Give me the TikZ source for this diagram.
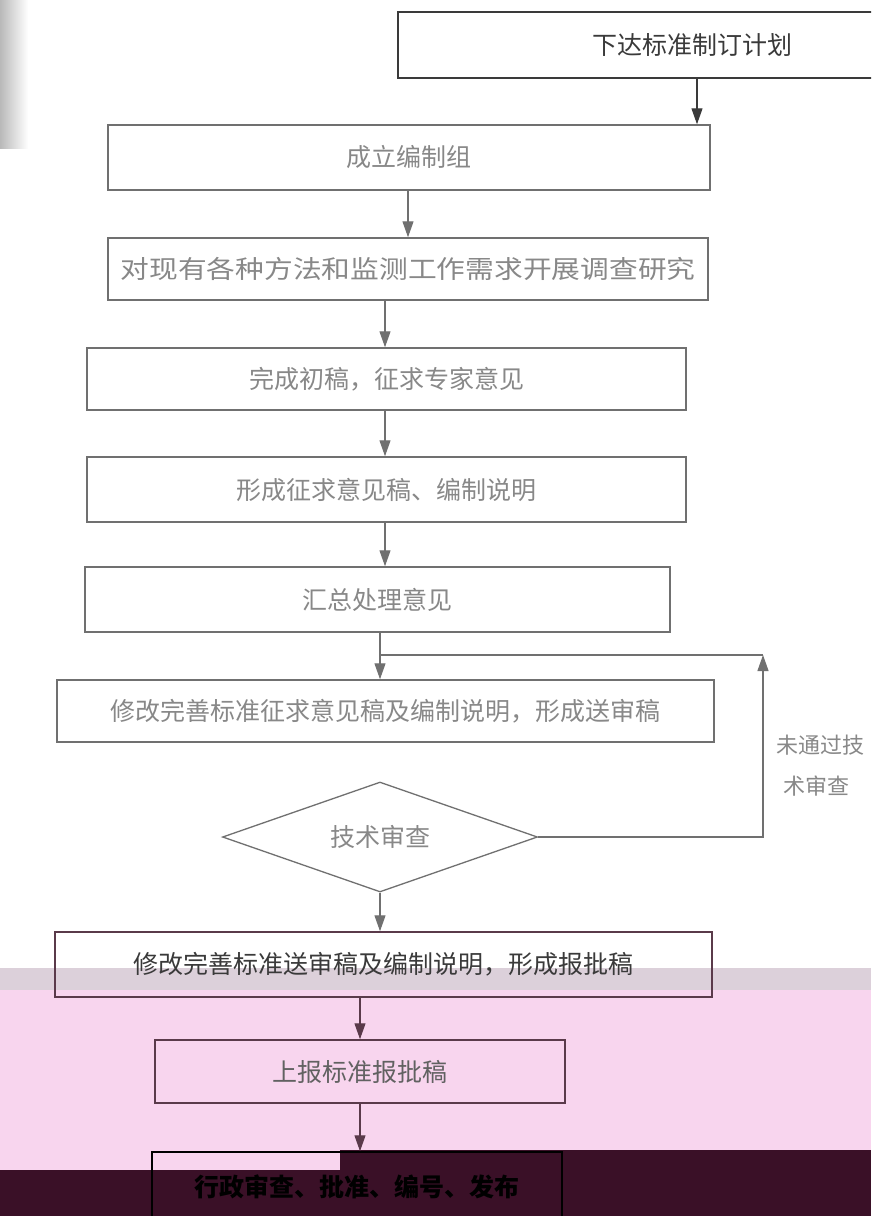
\documentclass[tikz,border=0pt]{standalone}
\usepackage{fontspec}
\setmainfont{Noto Sans CJK SC}
\usepackage{graphicx}
\usetikzlibrary{arrows.meta,shapes.geometric}
\definecolor{linec}{HTML}{707070}
\definecolor{txtc}{HTML}{888888}
\definecolor{darktxt}{HTML}{3A3A3A}
\definecolor{pinkbg}{HTML}{F8D5EE}
\definecolor{bandbg}{HTML}{DCD0DA}
\definecolor{darkbg}{HTML}{3A1027}
\definecolor{pinkline}{HTML}{5A3A4A}
\begin{document}
\begin{tikzpicture}[x=1pt,y=-1pt,
  box/.style={draw=linec,line width=1.5pt,rectangle,inner sep=0pt,text=txtc,
    font=\fontsize{25}{25}\selectfont},
  decision/.style={draw=linec,line width=1.3pt,diamond,aspect=2.86,inner sep=0pt,text=txtc,
    font=\fontsize{25}{25}\selectfont},
  arr/.style={draw=linec,line width=1.2pt,-{Triangle[length=16pt,width=11pt]}},
  link/.style={draw=linec,line width=1.2pt},
  lbl/.style={text=txtc,font=\fontsize{22}{41}\selectfont,align=left,inner sep=0pt}]
\clip (0,0) rectangle (871,1216);
% background (scan artefacts)
\fill[white] (0,0) rectangle (871,1216);
\shade[left color=gray!55,right color=white] (0,0) rectangle (28,148);
\fill[bandbg] (0,968) rectangle (871,990);
\fill[pinkbg] (0,990) rectangle (871,1170);
\fill[darkbg] (340,1150) rectangle (871,1170);
\fill[darkbg] (0,1170) rectangle (871,1216);

% nodes
\node[box,draw=darktxt,line width=2pt,text=darktxt,minimum width=588pt,minimum height=66pt] (b1) at (692,45) {下达标准制订计划};
\node[box,minimum width=602pt,minimum height=65pt] (b2) at (409,157.5) {成立编制组};
\node[box,minimum width=600pt,minimum height=62pt] (b3) at (408,269) {\scalebox{1.15}[1]{对现有各种方法和监测工作需求开展调查研究}};
\node[box,minimum width=599pt,minimum height=62pt] (b4) at (386.5,379) {完成初稿，征求专家意见};
\node[box,minimum width=599pt,minimum height=65pt] (b5) at (386.5,489.5) {形成征求意见稿、编制说明};
\node[box,minimum width=585pt,minimum height=65pt] (b6) at (377.5,599.5) {汇总处理意见};
\node[box,minimum width=657pt,minimum height=62pt] (b7) at (385.5,711) {修改完善标准征求意见稿及编制说明，形成送审稿};
\node[decision,minimum width=315pt,minimum height=110pt] (d1) at (380,837) {技术审查};
\node[box,draw=pinkline,text=darktxt,minimum width=657pt,minimum height=65pt] (b8) at (383.5,964.5) {修改完善标准送审稿及编制说明，形成报批稿};
\node[box,draw=pinkline,text=darktxt!80,minimum width=410pt,minimum height=63pt] (b9) at (360,1071.5) {上报标准报批稿};
\node[box,draw=black,text=black,minimum width=410pt,minimum height=70pt,font=\fontsize{25}{25}\selectfont\bfseries] (b10) at (357,1187) {行政审查、批准、编号、发布};
\node[lbl] (l1) at (820,766) {未通过技\\\hspace{7pt}术审查};

% arrow x positions
\coordinate (x1) at (697,0);
\coordinate (x2) at (408,0);
\coordinate (x3) at (385,0);
\coordinate (x4) at (380,0);
\coordinate (x5) at (360,0);
\coordinate (loopR) at (763,655);
\coordinate (loopL) at (380,655);

% connectors
\draw[arr,draw=darktxt] (b1.south -| x1) -- (b2.north -| x1);
\draw[arr] (b2.south -| x2) -- (b3.north -| x2);
\draw[arr] (b3.south -| x3) -- (b4.north -| x3);
\draw[arr] (b4.south -| x3) -- (b5.north -| x3);
\draw[arr] (b5.south -| x3) -- (b6.north -| x3);
\draw[arr] (b6.south -| x4) -- (b7.north -| x4);
\draw[arr] (d1.south) -- (b8.north -| d1.south);
\draw[arr,draw=pinkline] (b8.south -| x5) -- (b9.north -| x5);
\draw[arr,draw=pinkline] (b9.south -| x5) -- (b10.north -| x5);
\draw[arr] (d1.east) -- (loopR |- d1.east) -- (loopR);
\draw[link] (loopR) -- (loopL);
\end{tikzpicture}
\end{document}
